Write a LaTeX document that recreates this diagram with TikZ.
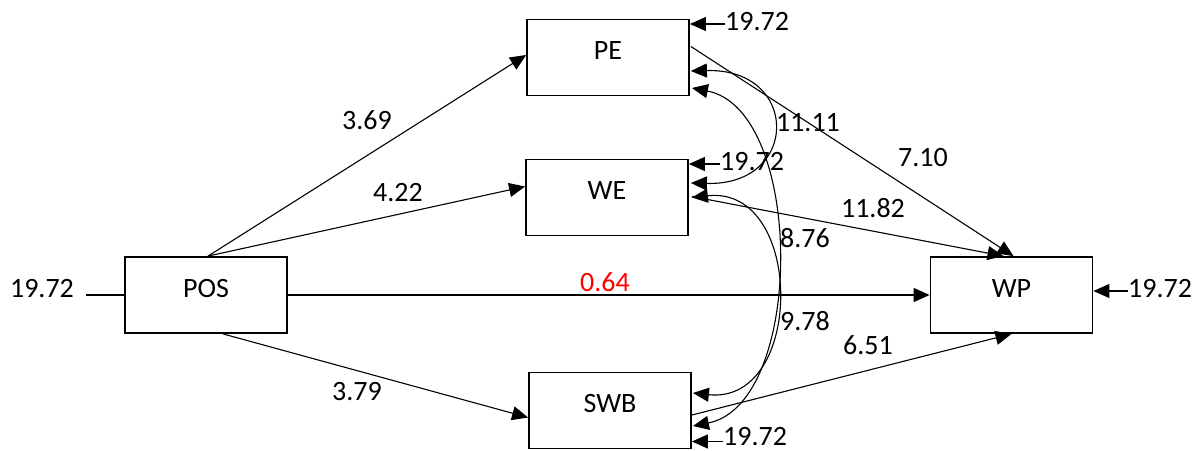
\documentclass[tikz,border=0pt]{standalone}
\usepackage{fontspec}
\setmainfont{Carlito}
\usetikzlibrary{arrows.meta,calc}
\begin{document}
\begin{tikzpicture}[x=1pt,y=-1pt,
  lbl/.style={font=\fontsize{28}{32}\selectfont, inner sep=0pt},
  box/.style={draw, line width=1.8pt, minimum width=162pt, minimum height=76pt,
    inner sep=0pt, text height=18pt, text depth=14pt, font=\fontsize{28}{32}\selectfont},
  coef/.style={lbl},
  resid/.style={lbl, text depth=5pt, anchor=west},
  tip/.tip={Triangle[length=16pt,width=14pt]},
  pathline/.style={line width=1.1pt, -tip},
  covline/.style={line width=1.1pt, tip-tip},
]
\useasboundingbox (0,0) rectangle (1194,450);

% latent variables
\node[box] (PE)  at (608,57.5)   {PE};
\node[box] (WE)  at (607,197.5)  {WE};
\node[box] (SWB) at (610,410.5)  {SWB};
\node[box] (POS) at (206,295)    {POS};
\node[box] (WP)  at (1011.5,295) {WP};

% structural paths
\draw[pathline] ($(POS.north)+(2,0)$) -- ($(PE.west)+(0,-2.5)$);
\draw[pathline] ($(POS.north)+(2,0)$) -- ($(WE.west)+(0,-11)$);
\draw[pathline] (POS.east) -- (WP.west);
\draw[pathline] ($(POS.south)+(17,0)$) -- ($(SWB.west)+(0,7)$);
\draw[pathline] ($(PE.east)+(1,-11)$) -- ($(WP.north)+(2,0)$);
\draw[pathline] ($(WE.east)+(3,-1)$) -- ($(WP.north)+(-8,0)$);
\draw[pathline] ($(SWB.east)+(0,4.5)$) -- (WP.south);

% covariances between mediators
\draw[covline] ($(PE.east)+(1,13.5)$) .. controls (800,68) and (800,186) .. ($(WE.east)+(2,-14.5)$);
\draw[covline] ($(PE.east)+(2,30.5)$) .. controls (805,110) and (805,404) .. ($(SWB.east)+(1,15.5)$);
\draw[covline] ($(WE.east)+(3,0)$) .. controls (805,185) and (805,405) .. ($(SWB.east)+(1,-17.5)$);

% residual terms
\node[resid] (ePE)  at (725,24)   {19.72};
\node[resid] (eWE)  at (720,164)  {19.72};
\node[lbl, anchor=west] (eSWB) at (723,436.5) {19.72};
\node[resid] (eWP)  at (1128,291) {19.72};
\node[lbl, text depth=14pt] (ePOS) at (42,295) {19.72};
\draw[pathline] (ePE.west)  -- (ePE.west -| PE.east);
\draw[pathline] (eWE.west)  -- (eWE.west -| WE.east);
\draw[pathline] ([yshift=-5pt]eSWB.west) -- ([yshift=-5pt]eSWB.west -| SWB.east);
\draw[pathline] (eWP.west)  -- (eWP.west -| WP.east);
\draw[line width=1.1pt] ($(ePOS.east)+(12,0)$) -- (POS.west);

% path coefficients
\node[coef] (c1) at (367,120) {3.69};
\node[coef] (c2) at (398,193) {4.22};
\node[coef, text=red] (c3) at (605,282) {0.64};
\node[coef] (c4) at (357,392) {3.79};
\node[coef] (c5) at (808,123) {11.11};
\node[coef] (c6) at (805,238) {8.76};
\node[coef] (c7) at (805,321) {9.78};
\node[coef] (c8) at (923,158) {7.10};
\node[coef] (c9) at (873,208) {11.82};
\node[coef] (c10) at (868,345) {6.51};
\end{tikzpicture}
\end{document}
